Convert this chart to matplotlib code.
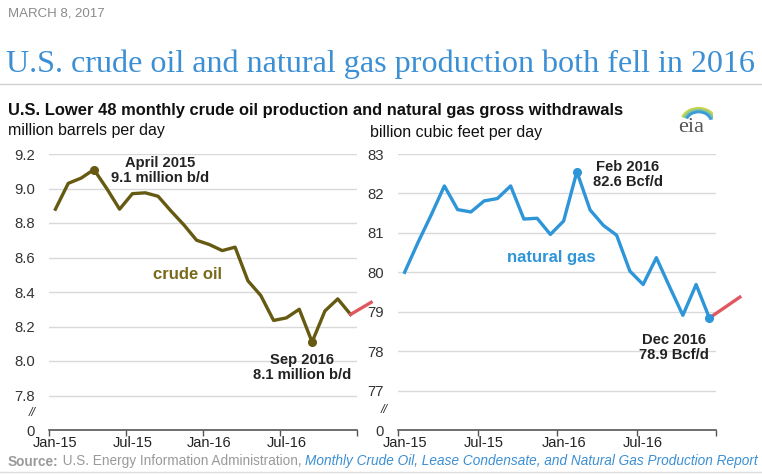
import numpy as np
import matplotlib.pyplot as plt
from matplotlib.patches import Arc

# monthly values Jan 2015 - Dec 2016
months = np.arange(24)
oil = [8.88, 9.03, 9.06, 9.11, 9.00, 8.88, 8.97, 8.975, 8.955, 8.87, 8.79, 8.70,
       8.675, 8.64, 8.66, 8.465, 8.38, 8.235, 8.25, 8.30, 8.11, 8.29, 8.36, 8.27]
gas = [80.0, 80.75, 81.45, 82.19, 81.59, 81.53, 81.81, 81.87, 82.19, 81.35, 81.37, 80.96,
       81.30, 82.55, 81.58, 81.19, 80.94, 80.03, 79.69, 80.37, 79.63, 78.91, 79.69, 78.84]
# short red segment after Dec 2016
oil_ext_x = [23, 24.6]
oil_ext = [8.27, 8.34]
gas_ext_x = [23, 25.3]
gas_ext = [78.84, 79.37]

tick_pos = [-0.5, 5.5, 11.5, 17.5, 23.5]
label_pos = [0, 6, 12, 18]
tick_labels = ['Jan-15', 'Jul-15', 'Jan-16', 'Jul-16']

oil_ticks = [7.6, 7.8, 8.0, 8.2, 8.4, 8.6, 8.8, 9.0, 9.2]
oil_tick_labels = ['0', '7.8', '8.0', '8.2', '8.4', '8.6', '8.8', '9.0', '9.2']
gas_ticks = [76, 77, 78, 79, 80, 81, 82, 83]
gas_tick_labels = ['0', '77', '78', '79', '80', '81', '82', '83']

oil_color = '#665a12'
gas_color = '#2d95d8'
red = '#e0585f'
W, H = 762, 475

plt.rcParams['font.family'] = ['Liberation Sans', 'DejaVu Sans']

fig = plt.figure(figsize=(W / 100, H / 100), dpi=100)


def fx(px):
    return px / W


def fy(py):
    return 1 - py / H


def setup(ax, ticks, labels):
    ax.set_xlim(-0.5, 23.5)
    ax.set_ylim(ticks[0], ticks[-1])
    ax.set_yticks(ticks[1:])
    ax.set_yticklabels(labels[1:])
    ax.set_yticks([ticks[0]], [labels[0]], minor=True)
    ax.tick_params(axis='y', which='both', length=0, pad=10, labelsize=10.7, labelcolor='#333333')
    ax.grid(axis='y', color='#d9d9d9', lw=1)
    ax.set_axisbelow(True)
    ax.set_xticks(tick_pos)
    ax.set_xticklabels([])
    ax.set_xticks(label_pos, tick_labels, minor=True)
    ax.tick_params(axis='x', which='major', length=4, width=1, color='#555555', direction='out')
    ax.tick_params(axis='x', which='minor', length=0, pad=4.5, labelsize=10.5, labelcolor='#222222')
    for s in ['top', 'right', 'left']:
        ax.spines[s].set_visible(False)
    ax.spines['bottom'].set_color('#555555')
    ax.spines['bottom'].set_linewidth(1.2)


ax1 = fig.add_axes([fx(49), fy(430), fx(357 - 49), fy(154) - fy(430)])
setup(ax1, oil_ticks, oil_tick_labels)
ax1.plot(months, oil, color=oil_color, lw=2.4, solid_joinstyle='round')
ax1.plot(oil_ext_x, oil_ext, color=red, lw=2.4, clip_on=False)
ax1.plot([months[3], months[20]], [oil[3], oil[20]], 'o', color=oil_color, ms=5.5, ls='none')
ax1.text(8.15, 9.104, 'April 2015\n9.1 million b/d', ha='center', va='center', fontsize=10.6,
         fontweight='bold', color='#222222', linespacing=1.1)
ax1.text(10.3, 8.50, 'crude oil', ha='center', va='center', fontsize=12,
         fontweight='bold', color='#7a6a1c')
ax1.text(19.2, 7.96, 'Sep 2016\n8.1 million b/d', ha='center', va='center', fontsize=10.6,
         fontweight='bold', color='#222222', linespacing=1.1)
ax1.text(-1.8, 7.7, '//', ha='center', va='center', fontsize=9, style='italic', color='#333333')

ax2 = fig.add_axes([fx(398), fy(430), fx(716 - 398), fy(154) - fy(430)])
setup(ax2, gas_ticks, gas_tick_labels)
ax2.plot(months, gas, color=gas_color, lw=2.4, solid_joinstyle='round')
ax2.plot(gas_ext_x, gas_ext, color=red, lw=2.4, clip_on=False)
ax2.plot([months[13], months[23]], [gas[13], gas[23]], 'o', color=gas_color, ms=5.5, ls='none')
ax2.text(16.86, 82.48, 'Feb 2016\n82.6 Bcf/d', ha='center', va='center', fontsize=10.6,
         fontweight='bold', color='#222222', linespacing=1.1)
ax2.text(11.05, 80.38, 'natural gas', ha='center', va='center', fontsize=12,
         fontweight='bold', color=gas_color)
ax2.text(20.3, 78.10, 'Dec 2016\n78.9 Bcf/d', ha='center', va='center', fontsize=10.6,
         fontweight='bold', color='#222222', linespacing=1.1)
ax2.text(-1.55, 76.5, '//', ha='center', va='center', fontsize=9, style='italic', color='#333333')

# header
fig.text(fx(8), fy(14), 'MARCH 8, 2017', fontsize=9.5, color='#8a8a8a', va='center')
fig.text(fx(6), fy(72), 'U.S. crude oil and natural gas production both fell in 2016',
         family=['Liberation Serif', 'DejaVu Serif'], fontsize=23.1, color='#3b8fd4', va='baseline')
fig.add_artist(plt.Line2D([0, 1], [fy(84), fy(84)], color='#d0d0d0', lw=1))
fig.text(fx(8), fy(115), 'U.S. Lower 48 monthly crude oil production and natural gas gross withdrawals',
         fontweight='bold', fontsize=11.9, color='#111111', va='baseline')
fig.text(fx(8), fy(135), 'million barrels per day', fontsize=11.5, color='#111111', va='baseline')
fig.text(fx(370), fy(137), 'billion cubic feet per day', fontsize=11.5, color='#111111', va='baseline')

# eia logo
fig.text(fx(691), fy(127), 'eia', family=['Liberation Serif', 'DejaVu Serif'], fontsize=16,
         color='#555555', ha='center', va='center')
lax = fig.add_axes([fx(677), fy(122), fx(36), fy(104) - fy(122)])
lax.set_xlim(0, 1)
lax.set_ylim(0, 1)
lax.axis('off')
for r, c in [(0.95, '#c8d44a'), (0.82, '#7cc3a6'), (0.70, '#3a9bd6')]:
    lax.add_patch(Arc((0.6, 0.0), r, r * 1.6, theta1=20, theta2=150, color=c, lw=2))

# source line
fig.canvas.draw()
r = fig.canvas.get_renderer()
x = fx(8)
parts = [('Source:', 'bold', 'normal', '#9a9a9a'),
         (' U.S. Energy Information Administration, ', 'normal', 'normal', '#9a9a9a'),
         ('Monthly Crude Oil, Lease Condensate, and Natural Gas Production Report', 'normal', 'italic', '#3b8fd4')]
for txt, w, st, c in parts:
    t = fig.text(x, fy(461.5), txt, fontsize=9.8, fontweight=w, style=st, color=c, va='center')
    x += t.get_window_extent(r).width / W
fig.add_artist(plt.Line2D([0, 1], [fy(472), fy(472)], color='#dddddd', lw=1))

plt.savefig('out.png', dpi=100)
